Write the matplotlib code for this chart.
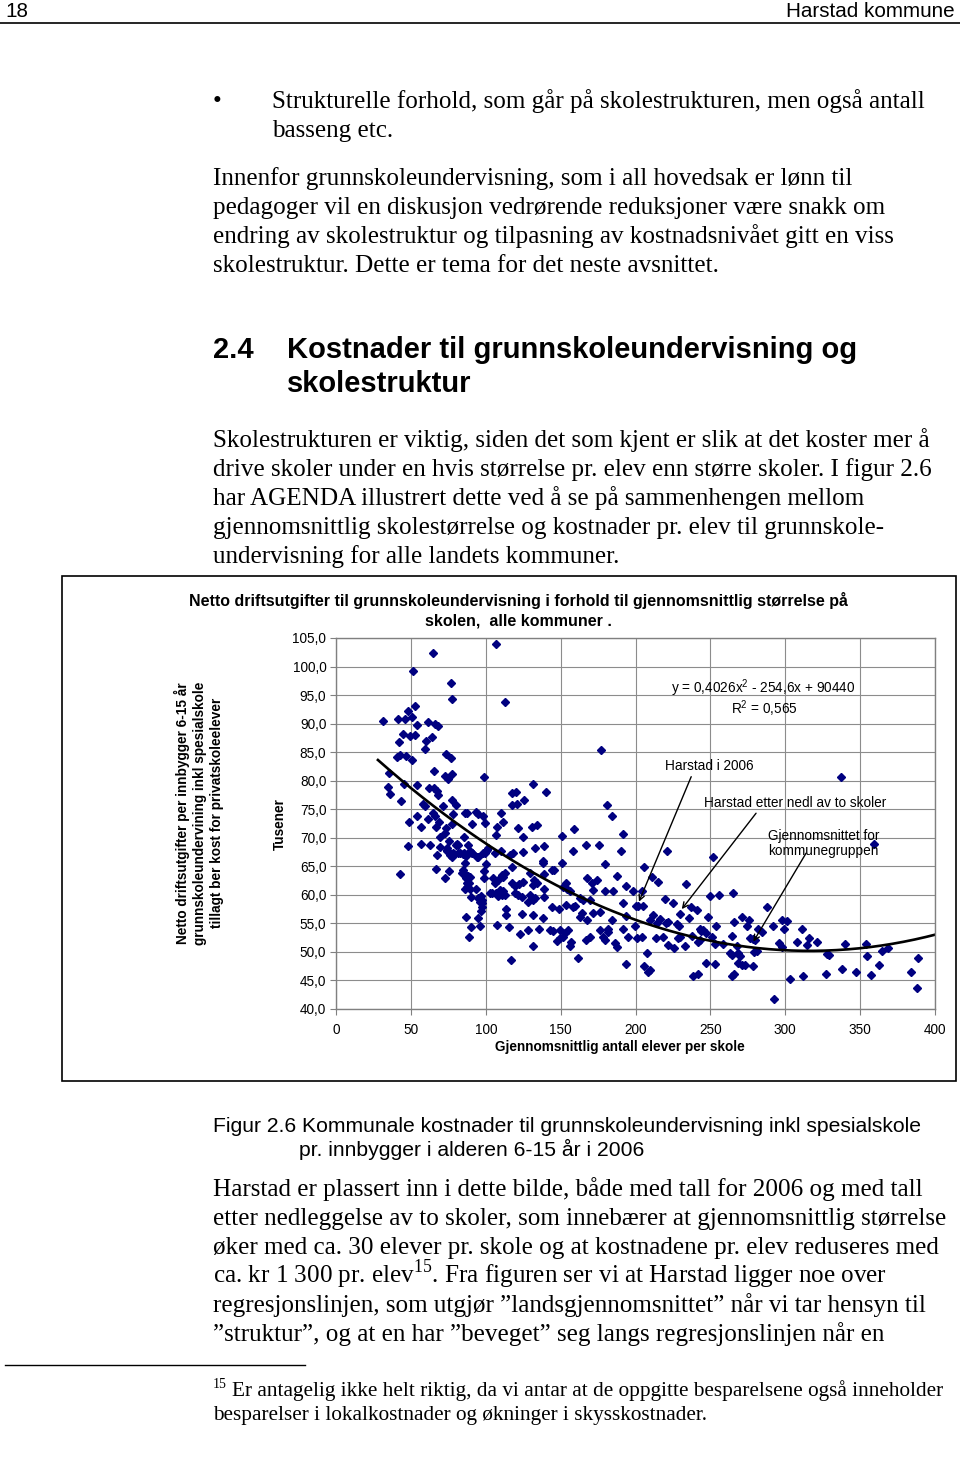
import numpy as np
import matplotlib
matplotlib.use('Agg')
import matplotlib.pyplot as plt
from matplotlib.patches import Rectangle
from matplotlib.ticker import FuncFormatter

plt.rcParams['font.family'] = ['Liberation Sans', 'DejaVu Sans']
plt.rcParams['mathtext.fontset'] = 'custom'
plt.rcParams['mathtext.rm'] = 'Liberation Serif'
plt.rcParams['mathtext.sf'] = 'Liberation Sans'

# ---- data: (gjennomsnittlig antall elever per skole, kostnad i tusen kr) ----
elever = [
    65.0, 51.6, 76.8, 77.7, 52.8, 47.9, 50.8, 31.6, 41.6, 45.9, 53.9, 61.6, 66.1, 67.9, 44.7, 49.6,
    52.8, 63.9, 59.9, 41.9, 59.7, 42.5, 40.7, 46.7, 50.8, 73.7, 76.8, 35.6, 65.6, 72.8, 74.8, 77.7,
    98.6, 34.9, 35.9, 45.6, 53.9, 43.6, 61.9, 65.2, 67.2, 68.3, 77.5, 79.9, 58.1, 59.4, 71.7, 64.6,
    78.3, 86.1, 87.7, 93.5, 94.8, 98.4, 53.9, 48.7, 61.6, 69.0, 99.7, 90.8, 56.6, 66.8, 73.7, 77.7,
    66.1,
    48.1, 56.6, 62.8, 69.4, 72.8, 75.7, 69.4, 73.9, 73.9, 80.1, 81.7, 88.4, 85.7, 67.7, 77.3, 78.8,
    81.7, 85.0, 86.8, 90.6, 95.0, 98.4, 100.0, 100.6, 85.9, 100.0, 42.7, 66.8, 75.7, 72.8, 84.8, 86.1,
    87.1, 88.4, 89.5, 98.8, 98.8, 87.3, 89.0, 87.7, 86.1, 89.5, 93.3, 89.9, 95.0, 96.6, 97.3, 97.3,
    96.2, 97.3, 96.6, 86.8, 94.6, 89.9, 96.2, 88.8, 102.8, 73.9, 81.0, 89.5, 76.1, 77.9, 82.8, 85.5,
    91.1, 94.2, 101.7, 99.5, 83.9, 108.5, 106.8, 108.5,
    106.8, 112.9, 177.0, 131.8, 140.0, 117.8, 120.0, 117.8, 120.7, 125.8, 110.0, 111.7, 107.7, 121.7,
    131.1, 134.0, 180.8, 184.1, 159.1,
    106.8, 124.7, 150.7, 191.9, 166.9, 175.8, 132.9, 138.9, 158.1, 190.1, 106.2, 110.0, 116.2, 118.4,
    125.1, 105.0, 106.2, 110.6, 112.9, 111.8, 117.3, 129.6, 138.0, 138.4, 144.1, 145.6, 150.7, 138.9,
    179.6, 187.9, 167.8, 174.0, 170.8, 153.6, 151.8, 132.4, 134.0, 131.8, 125.1, 122.4, 119.5, 117.3,
    104.0, 109.5, 111.8, 112.9, 110.6, 119.5, 121.7, 124.0, 129.6, 131.8, 128.5, 132.9, 138.9, 138.9,
    154.5, 156.3, 162.9, 165.1, 169.6, 171.8, 179.6, 184.7, 193.7, 198.5, 191.9, 200.3, 113.8, 113.3,
    124.0, 131.8, 138.4, 144.1, 149.1, 153.6, 158.1, 159.6, 162.9, 164.1, 167.8, 171.8, 176.3, 184.1,
    193.7, 107.7, 115.7, 122.9, 128.4, 135.8, 142.9, 144.7, 149.6, 155.1, 152.9, 151.8, 149.6, 147.8,
    156.7, 156.3, 166.9, 169.6, 176.3, 178.1, 179.6, 181.8, 181.8, 186.3, 187.4, 191.9, 195.3, 200.8,
    131.3, 116.9, 161.8, 193.7,
    220.8, 251.9, 205.7, 210.8, 215.2, 233.7, 204.2, 249.7, 256.0, 264.8, 219.7, 224.8, 201.9, 205.2,
    229.7, 236.9, 240.9, 235.9, 248.6, 288.0, 270.9, 276.0, 265.8, 297.6, 211.9, 209.7, 216.3, 214.2,
    220.4, 221.9, 227.5, 229.3, 199.7, 243.1, 245.3, 247.1, 243.7, 254.0, 274.7, 282.0, 284.3, 291.6,
    299.2, 204.2, 213.7, 218.2, 228.6, 229.7, 237.6, 242.0, 243.1, 251.4, 264.2, 276.5, 278.7, 279.8,
    221.9, 225.7, 232.8, 253.1, 258.2, 268.0, 268.7, 269.8, 263.1, 264.2, 279.1, 280.9, 296.1, 297.6,
    207.9, 205.7, 208.6, 209.7, 247.1, 253.1, 268.7, 270.9, 273.1, 278.3, 238.6, 242.0, 264.2, 265.8,
    292.5, 303.2,
    337.0, 359.3, 300.9, 311.0, 308.1, 316.1, 314.8, 321.1, 327.7, 329.0, 340.2, 354.0, 354.9, 364.6,
    368.3, 362.9, 388.9, 337.9, 347.2, 357.2, 383.9, 388.2, 326.9, 312.0,
]
kostnad = [
    102.4, 99.3, 97.2, 94.4, 93.0, 92.2, 91.1, 90.5, 90.8, 90.8, 89.8, 90.3, 90.0, 89.5, 88.2, 87.8,
    88.0, 87.7, 87.0, 86.8, 85.5, 84.5, 84.1, 84.4, 83.7, 84.7, 84.0, 81.3, 81.7, 80.9, 80.3, 81.2,
    80.7, 78.9, 77.7, 79.4, 79.2, 76.5, 78.8, 78.7, 78.2, 77.5, 76.6, 75.7, 76.0, 75.6, 75.6, 74.3,
    74.1, 74.3, 74.3, 74.6, 74.1, 73.9, 73.8, 72.8, 73.3, 72.8, 72.6, 72.4, 71.8, 71.9, 71.7, 72.4,
    73.8,
    68.6, 68.9, 68.7, 70.2, 70.9, 69.5, 68.3, 68.2, 67.6, 68.7, 68.7, 68.7, 70.1, 67.0, 66.7, 67.1,
    67.4, 67.1, 66.8, 67.3, 66.7, 67.3, 67.7, 67.9, 65.5, 65.4, 63.7, 64.5, 64.1, 62.9, 64.4, 63.6,
    63.0, 63.3, 63.1, 64.2, 62.9, 62.1, 62.1, 61.4, 61.1, 61.1, 61.1, 59.6, 59.4, 59.8, 59.1, 58.5,
    58.8, 57.8, 57.2, 56.2, 56.0, 54.4, 54.6, 52.6, 60.3, 67.9, 68.9, 67.6, 67.0, 67.3, 67.3, 67.4,
    67.3, 66.7, 68.2, 67.3, 63.8, 62.6, 60.3, 59.8,
    104.0, 93.7, 85.3, 79.5, 78.1, 77.9, 78.0, 75.7, 76.0, 76.6, 74.4, 72.7, 71.8, 71.7,
    71.9, 72.2, 75.8, 73.9, 71.5,
    70.5, 70.1, 70.3, 70.7, 68.7, 68.7, 68.2, 68.6, 67.7, 67.7, 67.3, 67.6, 67.0, 67.3,
    67.5, 62.9, 62.0, 63.5, 63.8, 63.2, 64.9, 63.8, 66.0, 65.5, 64.4, 64.4, 65.5, 63.7,
    65.4, 63.3, 62.9, 62.6, 62.1, 62.1, 61.4, 62.6, 62.0, 61.7, 62.3, 61.9, 61.5, 62.0,
    60.4, 60.8, 60.6, 60.0, 60.0, 60.3, 60.0, 59.7, 60.0, 59.1, 58.8, 59.4, 59.6, 61.0,
    61.1, 60.6, 59.4, 59.1, 59.1, 60.8, 60.6, 60.7, 61.5, 60.7, 58.6, 58.0, 57.5, 56.5,
    56.6, 56.5, 55.9, 57.8, 57.5, 58.2, 57.8, 58.0, 56.2, 56.8, 55.6, 56.8, 57.0, 55.6,
    56.3, 54.7, 54.4, 53.1, 53.8, 54.0, 53.8, 53.7, 53.8, 53.8, 53.3, 52.7, 52.4, 52.0,
    51.8, 51.0, 52.1, 52.7, 53.8, 52.7, 52.1, 54.1, 53.5, 51.6, 50.9, 54.0, 52.7, 52.4,
    51.0, 48.5, 48.9, 47.9,
    67.6, 66.6, 64.9, 63.2, 62.3, 61.9, 60.6, 59.8, 60.0, 60.3, 59.2, 58.6, 58.0, 58.0,
    56.6, 57.8, 57.3, 55.9, 56.2, 57.8, 56.2, 55.6, 55.3, 55.6, 56.5, 55.6, 55.7, 55.0,
    55.0, 55.3, 54.9, 54.5, 54.5, 54.1, 53.8, 53.4, 53.7, 54.5, 54.5, 54.0, 53.5, 54.5,
    54.0, 52.7, 52.4, 52.7, 52.4, 52.7, 52.8, 51.8, 52.1, 52.7, 52.8, 52.4, 52.2, 52.1,
    51.2, 50.6, 51.0, 51.4, 51.4, 51.0, 49.8, 49.3, 49.8, 49.5, 50.0, 50.2, 51.5, 50.8,
    49.8, 47.5, 46.5, 46.8, 48.0, 47.8, 48.1, 47.7, 47.7, 47.6, 45.8, 46.1, 45.7, 46.1,
    41.8, 45.2,
    80.7, 68.9, 55.5, 54.1, 51.7, 52.4, 51.2, 51.7, 49.6, 49.5, 51.4, 51.4, 49.3, 50.2,
    50.7, 47.7, 49.0, 47.0, 46.4, 46.0, 46.4, 43.6, 46.1, 45.7,
]

# trendlinje fra figuren: y = 0,4026x^2 - 254,6x + 90440 (kr)
trend_coef = [0.4026, -254.6, 90440]
trend_start, trend_end = 28, 400

# piler: (tekst-ende, pilspiss) i dataenheter
pil_2006 = ((237.2, 80.7), (202.3, 58.8))
pil_nedl = ((280.5, 74.3), (230.9, 57.5))
pil_gjsn = ((313.9, 67.3), (278.7, 51.8))

y_ticks = np.arange(40, 106, 5)
x_ticks = np.arange(0, 401, 50)

serif = ['Liberation Serif', 'DejaVu Serif']
body_fs = 18.1
note_fs = 15.3
chart_fs = 9.8
title_fs = 11.5

fig = plt.figure(figsize=(9.6, 14.68), dpi=100)
page = fig.add_axes([0, 0, 1, 1])
page.set_xlim(0, 960)
page.set_ylim(1468, 0)
page.axis('off')

# header
page.text(5, 17, '18', fontsize=14.9, va='baseline')
page.text(955, 17, 'Harstad kommune', fontsize=14.9, ha='right', va='baseline')
page.plot([0, 960], [23, 23], color='black', lw=1.2)

# body text
page.text(213, 108, '\u2022', family=serif, fontsize=body_fs, va='baseline')
for i, s in enumerate(['Strukturelle forhold, som går på skolestrukturen, men også antall',
                       'basseng etc.']):
    page.text(272, 108 + 29 * i, s, family=serif, fontsize=body_fs, va='baseline')

para1 = ['Innenfor grunnskoleundervisning, som i all hovedsak er lønn til',
         'pedagoger vil en diskusjon vedrørende reduksjoner være snakk om',
         'endring av skolestruktur og tilpasning av kostnadsnivået gitt en viss',
         'skolestruktur. Dette er tema for det neste avsnittet.']
for i, s in enumerate(para1):
    page.text(213, 185 + 29 * i, s, family=serif, fontsize=body_fs, va='baseline')

page.text(213, 358, '2.4', fontsize=21, weight='bold', va='baseline')
page.text(287, 358, 'Kostnader til grunnskoleundervisning og', fontsize=21, weight='bold', va='baseline')
page.text(287, 392, 'skolestruktur', fontsize=21, weight='bold', va='baseline')

para2 = ['Skolestrukturen er viktig, siden det som kjent er slik at det koster mer å',
         'drive skoler under en hvis størrelse pr. elev enn større skoler. I figur 2.6',
         'har AGENDA illustrert dette ved å se på sammenhengen mellom',
         'gjennomsnittlig skolestørrelse og kostnader pr. elev til grunnskole-',
         'undervisning for alle landets kommuner.']
for i, s in enumerate(para2):
    page.text(213, 447 + 29 * i, s, family=serif, fontsize=body_fs, va='baseline')

# chart frame and texts
page.add_patch(Rectangle((62, 576), 894, 505, fill=False, edgecolor='black', lw=1.2))
page.text(518, 606, 'Netto driftsutgifter til grunnskoleundervisning i forhold til gjennomsnittlig størrelse på',
          fontsize=title_fs, weight='bold', ha='center', va='baseline')
page.text(518, 626, 'skolen,  alle kommuner .', fontsize=title_fs, weight='bold', ha='center', va='baseline')
page.text(199, 813, 'Netto driftsutgifter per innbygger 6-15 år\ngrunnskoleundervining inkl spesialskole\n'
          'tillagt ber kost for privatskoleelever', fontsize=chart_fs, weight='bold',
          rotation=90, ha='center', va='center', multialignment='center', linespacing=1.3)
page.text(280, 824, 'Tusener', fontsize=chart_fs, weight='bold', rotation=90, ha='center', va='center')
page.text(620, 1047, 'Gjennomsnittlig antall elever per skole', fontsize=chart_fs, weight='bold',
          ha='center', va='center')

# caption
page.text(213, 1132, 'Figur 2.6 Kommunale kostnader til grunnskoleundervisning inkl spesialskole',
          fontsize=15.2, va='baseline')
page.text(299, 1156, 'pr. innbygger i alderen 6-15 år i 2006', fontsize=15.2, va='baseline')

para3 = ['Harstad er plassert inn i dette bilde, både med tall for 2006 og med tall',
         'etter nedleggelse av to skoler, som innebærer at gjennomsnittlig størrelse',
         'øker med ca. 30 elever pr. skole og at kostnadene pr. elev reduseres med',
         r'ca. kr 1 300 pr. elev$^{\mathrm{15}}$. Fra figuren ser vi at Harstad ligger noe over',
         'regresjonslinjen, som utgjør \u201dlandsgjennomsnittet\u201d når vi tar hensyn til',
         '\u201dstruktur\u201d, og at en har \u201dbeveget\u201d seg langs regresjonslinjen når en']
for i, s in enumerate(para3):
    page.text(213, 1196 + 29 * i, s, family=serif, fontsize=body_fs, va='baseline')

# footnote
page.plot([5, 305], [1365, 1365], color='black', lw=1)
page.text(213, 1388, '15', family=serif, fontsize=10, va='baseline')
page.text(232, 1396, 'Er antagelig ikke helt riktig, da vi antar at de oppgitte besparelsene også inneholder',
          family=serif, fontsize=note_fs, va='baseline')
page.text(213, 1420, 'besparelser i lokalkostnader og økninger i skysskostnader.',
          family=serif, fontsize=note_fs, va='baseline')

# ---- scatter chart ----
ax = fig.add_axes([336 / 960, 1 - 1009 / 1468, 599 / 960, 371 / 1468])
ax.set_xlim(0, 400)
ax.set_ylim(40, 105)
ax.set_xticks(x_ticks)
ax.set_yticks(y_ticks)
ax.yaxis.set_major_formatter(FuncFormatter(lambda v, p: f'{v:.1f}'.replace('.', ',')))
ax.grid(True, color='#8c8c8c', lw=0.8)
ax.set_axisbelow(True)
for sp in ax.spines.values():
    sp.set_color('#808080')
    sp.set_linewidth(1)
ax.tick_params(axis='both', direction='out', length=4, color='#808080', labelsize=chart_fs)
ax.tick_params(axis='x', pad=6)
ax.tick_params(axis='y', pad=3)

ax.plot(elever, kostnad, 'D', color='#000080', ms=4.5, ls='none')

xs = np.linspace(trend_start, trend_end, 300)
ax.plot(xs, np.polyval(trend_coef, xs) / 1000, color='black', lw=1.9)

ax.text(285.1, 96.2, 'y = 0,4026x$^{\\mathsf{2}}$ - 254,6x + 90440', fontsize=chart_fs, ha='center', va='center')
ax.text(285.8, 92.7, 'R$^{\\mathsf{2}}$ = 0,565', fontsize=chart_fs, ha='center', va='center')

ax.text(219.7, 82.6, 'Harstad i 2006', fontsize=chart_fs, va='center')
ax.text(245.7, 76.1, 'Harstad etter nedl av to skoler', fontsize=chart_fs, va='center')
ax.text(288.5, 69.0, 'Gjennomsnittet for\nkommunegruppen', fontsize=chart_fs, va='center', linespacing=1.1)
for start, tip in [pil_2006, pil_nedl, pil_gjsn]:
    ax.annotate('', xy=tip, xytext=start,
                arrowprops=dict(arrowstyle='->', color='black', lw=1, shrinkA=0, shrinkB=0))

fig.savefig('out.png', dpi=100)
